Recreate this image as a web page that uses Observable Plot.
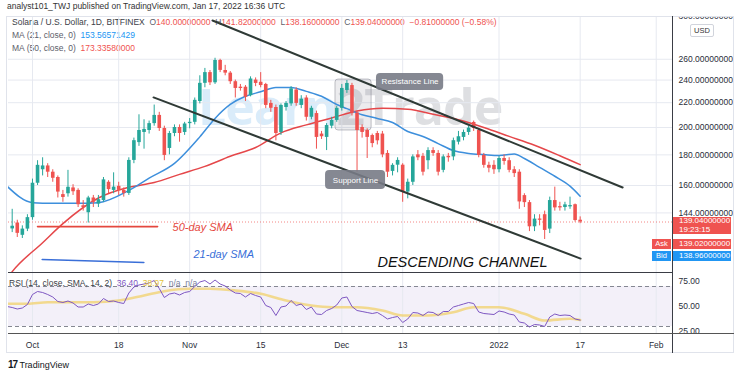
<!DOCTYPE html>
<html>
<head>
<meta charset="utf-8">
<script src="https://cdn.jsdelivr.net/npm/d3@7"></script>
<script src="https://cdn.jsdelivr.net/npm/@observablehq/plot@0.6"></script>
<style>
html,body{margin:0;padding:0;background:#fff;}
#wrap{position:relative;width:740px;height:376px;overflow:hidden;background:#fff;font-family:"Liberation Sans",Arial,sans-serif;color:#131722;}
.abs{position:absolute;white-space:nowrap;}
.g{color:#5d606b}.r{color:#ef5350}.b{color:#2196f3}
</style>
</head>
<body>
<div id="wrap"></div>
<script>
// ---------------- data ----------------
const firstCandle = "2021-09-27";
const lastCandle = "2022-01-17";
const opens = [135.4,138.5,132.1,135.3,141.4,161.4,170,172.5,168.4,165,
  154.5,155,158.5,157,148,144.1,152.5,149,151,162,
  157,159.5,157,155.2,176.2,188.7,196.2,197.7,203,209.5,
  199.2,184.5,195.4,200,196.2,203,204,221,237,247,
  237.5,258.8,249,246.5,238.5,233.5,233.5,226,240,238,
  236,219.4,216,196.2,216,219,231,217.7,224,208,
  211,195,192.5,201,205.5,215.3,230.6,235,211.4,200,
  197.7,193.9,195.4,195,181,168.9,173,173,156,162,
  180,179,176,183,181,169.6,179,178.6,189,192.5,
  196.2,203.9,197.7,179.6,172.9,172.9,170,177.5,176,170,
  168.4,153.9,149.8,136.5,140.6,143,135.3,151,147.5,147,
  147.5,148.6,140];
const highs = [146,140,137,143,164,176,178,174,170,166,
  157,169.6,160.5,158,151,153.5,154,154,165,163,
  168,162,158.5,178,192,210,206,205,218,212,
  201,197,202,202,204,207,224,244,251,249,
  261,260,254,248,240,236,235,243,242,247,
  237,222,218,219,221,234,233,226,226,217,
  213,197,203,208,217,236,239.6,237,213,202,
  199,195,197,197,183,174,178,174,164,180,
  183,181,185,185,183,180,181,192,197,198,
  201,205,199,181,175,176,179,180,178,172,
  170,155,151,143,143,145,153,159,150,150,
  153,149,141.82];
const lows = [133.5,131,130.5,134,140,160,166,165,162,152.5,
  150,153,154,147,145,138.5,147,147,150,155,
  155,154,153,154,174,186,184,195,201,197,
  176,180,193,189,194,199,202,219,233,235,
  236,247,244,236,224,230,221,225,234,233,
  215,212,190,194,213,217,217,215,205,206,
  184,191,183,199,204,213,228,209,168.4,192,
  177.5,185,187,178,165,166,168,150,152,160,
  176,166,170,179,166,168,175,176,187,190,
  194,197,178,171,168,167,168,173,168,165,
  146,147,134,134,137,130,133,145,145,145,
  146,139,138.16];
const closes = [136.8,133.1,135.3,141.4,161.4,172.9,172.5,168.4,164.5,156,
  152.8,158.9,156.2,148.6,147,152.5,150,151.5,163.5,157.5,
  159,157,155.2,176.2,190.1,197.7,198.5,203,209.5,199.2,
  179.6,195.4,200,195.4,202.7,204,222,237,247,237.5,
  258.8,249.1,246.5,238.5,232.4,232.4,224.6,241,236.9,235,
  217.7,215.3,195.4,217.7,219.4,232,219.4,223,208,215.3,
  192.5,193,201.5,205.5,215.3,232.4,236.9,211.4,197.7,196.2,
  192.5,188,190,180,168.4,172.9,176.2,156,162,178.6,
  178,168.4,183,181,168.4,178.6,178,190.1,193,196.2,
  199.5,199.2,179.6,172.9,171,170,177.5,175.5,169.6,167.5,
  150.2,149.8,136.5,140.6,140,134.6,151,146.8,146.8,148.5,
  148,139.85,139.04];

const ma21Dates = ["2021-09-26","2021-10-01","2021-10-05","2021-10-10","2021-10-14","2021-10-20","2021-10-24","2021-10-29","2021-11-03","2021-11-06","2021-11-09","2021-11-12","2021-11-15","2021-11-18","2021-11-21","2021-11-24","2021-11-27","2021-11-30","2021-12-02","2021-12-05","2021-12-08","2021-12-11","2021-12-14","2021-12-17","2021-12-20","2021-12-23","2021-12-26","2021-12-29","2022-01-01","2022-01-04","2022-01-06","2022-01-09","2022-01-12","2022-01-15","2022-01-17"];
const ma21Values = [159.5,149.8,149.4,149.4,149.8,157.0,164.6,174.2,192.9,207.1,218.5,225.5,229.4,233.3,233.3,229.8,225.5,218.5,215.0,210.0,207.1,203.9,196.9,193.2,188.0,183.0,181.0,180.2,179.6,180.6,177.5,171.5,165.8,159.6,153.57];

const ma50Dates = ["2021-09-26","2021-09-27","2021-10-03","2021-10-07","2021-10-14","2021-10-20","2021-10-25","2021-10-30","2021-11-04","2021-11-09","2021-11-14","2021-11-19","2021-11-24","2021-11-29","2021-12-04","2021-12-09","2021-12-14","2021-12-19","2021-12-24","2021-12-29","2022-01-03","2022-01-08","2022-01-13","2022-01-17"];
const ma50Values = [112.0,114.9,128.4,138.2,152.5,158.9,161.8,167.0,172.2,179.0,185.2,195.9,202.0,207.5,213.0,215.3,214.5,210.4,206.0,200.0,193.3,186.8,179.4,173.34];

const rsiStart = "2021-09-26";
const rsiValues = [50,49,47.5,48.5,52,
  62,65,64,62,59.5,55,54,55.5,53.5,49.5,
  49.5,52.5,51,52.5,58,55,55.5,54,53,63.5,
  69.5,71.5,72.5,73.5,76,68,59,62.5,63.5,61.5,64,
  65,70,74.5,76,72.5,76.5,72.5,70.5,66.5,63.5,
  63,59.5,63,61,59.5,51,49,41,49.5,50.5,
  56,51,52.5,47,49.5,42.5,42,46,48,51.5,
  58.5,59.5,50,46,45,44,43,44,41,37.5,
  39,40,34,37.5,44,43.5,41,44.5,44,41,
  45,45,49.5,51,52.5,54,53,44.5,43,42.5,42,
  45.5,44.5,42.5,41.5,34.5,33.5,29.5,32,31.5,30,
  39.5,42.5,41,41.5,41,37.5,36.4];
const rsiMaDates = ["2021-09-26","2021-09-30","2021-10-04","2021-10-09","2021-10-13","2021-10-18","2021-10-23","2021-10-27","2021-11-01","2021-11-05","2021-11-10","2021-11-15","2021-11-20","2021-11-25","2021-11-29","2021-12-04","2021-12-09","2021-12-13","2021-12-18","2021-12-23","2021-12-27","2022-01-01","2022-01-06","2022-01-10","2022-01-15","2022-01-17"];
const rsiMaValues = [52.7,52.7,54.3,54.3,54.3,56,61,65.3,67.7,67.7,66,62.7,56,51,49.3,49.3,46,41,41,44.3,49.3,49.3,42.7,36,37.7,36.5];

const tickDates = ["2021-10-01","2021-10-18","2021-11-01","2021-11-15","2021-12-01","2021-12-13","2022-01-01","2022-01-17","2022-02-01"];
const tickLabels = ["Oct","18","Nov","15","Dec","13","2022","17","Feb"];
const priceTicks = [144,160,180,200,220,240,260];
const topPriceTick = [300];
const rsiTicks = [25,50,75];
const rsiBands = [30,70];

const resistanceLine = [{date:"2021-11-05T12:00Z", price:301.8},{date:"2022-01-25T09:00Z", price:158.8}];
const supportLine = [{date:"2021-10-24T21:00Z", price:224.5},{date:"2022-01-17T02:00Z", price:120.8}];
const lineLabels = [
  {text:"Resistance Line", x1:"2021-12-07T20:00Z", x2:"2021-12-21T02:00Z", y1:230.6, y2:246.2, tx:"2021-12-14T11:00Z", ty:238.3},
  {text:"Support Line", x1:"2021-11-27T19:00Z", x2:"2021-12-09T15:00Z", y1:157.6, y2:169.5, tx:"2021-12-03T17:00Z", ty:163.4}
];
const highlightBox = [{x1:"2021-11-29T18:00Z", x2:"2021-12-06T21:00Z", y1:197.7, y2:240.5}];
const smaNotes = [
  {text:"50-day SMA", date:"2021-10-28T15:00Z", price:136.1, key:"ma50"},
  {text:"21-day SMA", date:"2021-11-01T18:00Z", price:122.7, key:"ma21"}
];
const smaNoteLines50 = [{date:"2021-10-02", price:136.6},{date:"2021-10-25T16:00Z", price:136.6}];
const smaNoteLines21 = [{date:"2021-10-02T22:00Z", price:120.4},{date:"2021-10-22T23:00Z", price:119.0}];
const channelTitle = [{text:"DESCENDING CHANNEL", date:"2021-12-24T19:00Z", price:119.0}];
const lastPrice = 139.04;

// ---------------- build ----------------
const UP = "#26a69a", DOWN = "#ef5350", MA21C = "#3d8fdc", MA50C = "#e5474a";
const FONT = "'Liberation Sans', Arial, sans-serif";
const D = s => new Date(s.length === 10 ? s + "T00:00:00Z" : s);
const candleDates = d3.utcDay.range(D(firstCandle), d3.utcDay.offset(D(lastCandle), 1));
const candles = candleDates.map((date, i) => {
  const o = opens[i], c = closes[i];
  let lo = Math.min(o, c), hi = Math.max(o, c);
  if (hi / lo < 1.005) { const m = Math.sqrt(hi * lo); lo = m / 1.0025; hi = m * 1.0025; }
  return {date, open:o, high:highs[i], low:lows[i], close:c, lo, hi, color: c >= o ? UP : DOWN};
});
const ma21 = ma21Dates.map((d, i) => ({date:D(d), price:ma21Values[i]}));
const ma50 = ma50Dates.map((d, i) => ({date:D(d), price:ma50Values[i]}));
const rsiDates = d3.utcDay.range(D(rsiStart), d3.utcDay.offset(D(lastCandle), 1));
const rsi = rsiDates.map((date, i) => ({date, v:rsiValues[i]}));
const rsiMa = rsiMaDates.map((d, i) => ({date:D(d), v:rsiMaValues[i]}));
const ticks = tickDates.map(D);
const tickLabelOf = d => tickLabels[ticks.findIndex(t => +t === +d)];
const toPts = arr => arr.map(p => ({date:D(p.date), price:p.price}));

const xDomain = [new Date(Date.UTC(2021,8,26,6,30)), new Date(Date.UTC(2022,1,4,5,0))];

const wrap = document.getElementById("wrap");
function addDiv(html, css) {
  const d = document.createElement("div");
  d.className = "abs"; d.style.cssText = css; d.innerHTML = html;
  wrap.appendChild(d); return d;
}

// watermark (behind)
addDiv('<span style="color:#4aa3e8;opacity:0.2">Learn</span><span style="color:#8a8f99;opacity:0.28">2Trade</span>',
  "left:198px;top:72px;font:bold 50px 'Open Sans',sans-serif;letter-spacing:-1px;");

// header + legend
addDiv("analyst101_TWJ published on TradingView.com, Jan 17, 2022 16:36 UTC",
  "left:7px;top:1px;font-size:8.5px;line-height:11px;color:#333;");
addDiv('<span style="color:#3b3e47">Solana / U.S. Dollar, 1D, BITFINEX</span>&nbsp; <span class="g">O</span><span class="r">140.00000000</span>&nbsp; <span class="g">H</span><span class="r">141.82000000</span>&nbsp; <span class="g">L</span><span class="r">138.16000000</span>&nbsp; <span class="g">C</span><span class="r">139.04000000</span>&nbsp; <span class="r">\u22120.81000000 (\u22120.58%)</span>',
  "left:12px;top:16.5px;font-size:8.5px;line-height:11px;");
addDiv('<span class="g">MA (21, close, 0)</span>&nbsp; <span class="b">153.56571429</span>',
  "left:12px;top:29.5px;font-size:8.5px;line-height:11px;");
addDiv('<span class="g">MA (50, close, 0)</span>&nbsp; <span class="r">173.33580000</span>',
  "left:12px;top:42.5px;font-size:8.5px;line-height:11px;");

// ---------- main price pane ----------
const plotA = Plot.plot({
  width: 740, height: 255,
  marginLeft: 8, marginRight: 68, marginTop: 0, marginBottom: 0,
  style: {fontFamily: FONT, fontSize: "8.5px", color: "#2a2e39", background: "transparent", overflow: "hidden"},
  x: {type: "utc", domain: xDomain, axis: null, label: null},
  y: {type: "log", domain: [114.5, 305.3], label: null, axis: null},
  marks: [
    Plot.gridX(ticks, {stroke: "#e6e9f0", strokeOpacity: 1}),
    Plot.gridY(priceTicks, {stroke: "#e6e9f0", strokeOpacity: 1}),
    Plot.rect(highlightBox, {x1: d => D(d.x1), x2: d => D(d.x2), y1: "y1", y2: "y2", fill: "#787b86", fillOpacity: 0.14, stroke: "#787b86", strokeOpacity: 0.45, rx: 3}),
    Plot.ruleY([lastPrice], {stroke: DOWN, strokeDasharray: "1,2", strokeOpacity: 0.7}),
    Plot.line(ma50, {x: "date", y: "price", stroke: MA50C, strokeWidth: 1.5, curve: "monotone-x", clip: true}),
    Plot.line(ma21, {x: "date", y: "price", stroke: MA21C, strokeWidth: 1.5, curve: "monotone-x", clip: true}),
    Plot.ruleX(candles, {x: "date", y1: "low", y2: "high", stroke: "color", strokeWidth: 1, clip: true}),
    Plot.ruleX(candles, {x: "date", y1: "lo", y2: "hi", stroke: "color", strokeWidth: 3.6, clip: true}),
    Plot.line(toPts(smaNoteLines50), {x: "date", y: "price", stroke: "#e5473e", strokeWidth: 1.6}),
    Plot.line(toPts(smaNoteLines21), {x: "date", y: "price", stroke: "#3a6fd8", strokeWidth: 1.6}),
    Plot.text(smaNotes, {x: d => D(d.date), y: "price", text: "text", textAnchor: "start", fontStyle: "italic", fontSize: 11, fill: d => d.key === "ma50" ? "#e5473e" : "#3a6fd8"}),
    Plot.text(channelTitle, {x: d => D(d.date), y: "price", text: "text", fontStyle: "italic", fontSize: 14.5, fill: "#111", fontFamily: FONT}),
    Plot.line(toPts(resistanceLine), {x: "date", y: "price", stroke: "#2f3a36", strokeWidth: 2, clip: true}),
    Plot.line(toPts(supportLine), {x: "date", y: "price", stroke: "#2f3a36", strokeWidth: 2, clip: true}),
    Plot.rect(lineLabels, {x1: d => D(d.x1), x2: d => D(d.x2), y1: "y1", y2: "y2", fill: "#787b86", fillOpacity: 0.9, rx: 4}),
    Plot.text(lineLabels, {x: d => D(d.tx), y: "ty", text: "text", fill: "#fff", fontSize: 8}),
    Plot.axisY(priceTicks, {anchor: "right", tickSize: 0, tickPadding: 6, tickFormat: d => d.toFixed(8), label: null}),
    Plot.axisY(topPriceTick, {anchor: "right", tickSize: 0, tickPadding: 6, dy: -6, tickFormat: d => d.toFixed(8), label: null})
  ]
});
plotA.style.position = "absolute";
plotA.style.left = "0px";
plotA.style.top = "17px";
wrap.appendChild(plotA);

// RSI legend
addDiv('<span style="color:#3b3e47">RSI (14, close, SMA, 14, 2)</span>&nbsp; <span style="color:#7e57c2">36.40</span>&nbsp; <span style="color:#e3c23a">38.97</span>&nbsp; <span style="color:#7b7f9e">n/a&nbsp; n/a</span>',
  "left:9px;top:278px;font-size:8.5px;line-height:11px;z-index:2;");

// ---------- RSI pane + time axis ----------
const plotB = Plot.plot({
  width: 740, height: 80,
  marginLeft: 8, marginRight: 68, marginTop: 0, marginBottom: 19,
  style: {fontFamily: FONT, fontSize: "8.5px", color: "#2a2e39", background: "transparent", overflow: "hidden"},
  x: {type: "utc", domain: xDomain, label: null, axis: null},
  y: {domain: [23, 84], label: null, axis: null},
  marks: [
    Plot.rect([rsiBands], {x1: () => xDomain[0], x2: () => xDomain[1], y1: d => d[0], y2: d => d[1], fill: "#7e57c2", fillOpacity: 0.09}),
    Plot.gridX(ticks, {stroke: "#e6e9f0", strokeOpacity: 1}),
    Plot.ruleY(rsiBands, {stroke: "#787b86", strokeDasharray: "4,3", strokeOpacity: 0.9}),
    Plot.line(rsiMa, {x: "date", y: "v", stroke: "#f2d16b", strokeWidth: 2.6, strokeOpacity: 0.75, curve: "monotone-x", clip: true}),
    Plot.line(rsi, {x: "date", y: "v", stroke: "#7e57c2", strokeWidth: 1, clip: true}),
    Plot.axisX(ticks, {tickSize: 0, tickPadding: 8, tickFormat: tickLabelOf, label: null}),
    Plot.axisY(rsiTicks, {anchor: "right", tickSize: 0, tickPadding: 6, tickFormat: d => d.toFixed(2), label: null})
  ]
});
plotB.style.position = "absolute";
plotB.style.left = "0px";
plotB.style.top = "272px";
wrap.appendChild(plotB);

// frame / separators
addDiv("", "left:6px;top:16px;width:728px;height:337px;border:1px solid #e0e3eb;box-sizing:border-box;");
addDiv("", "left:672px;top:16px;width:1px;height:337px;background:#3a3d45;");
addDiv("", "left:8px;top:272px;width:664px;height:1px;background:#3a3d45;");
addDiv("", "left:8px;top:333px;width:726px;height:1px;background:#555;");

// USD box
addDiv("USD", "left:690px;top:24px;width:22px;height:11px;border:1px solid #d1d4dc;background:#fff;border-radius:2px;font-size:7.5px;line-height:11px;text-align:center;color:#333;");

// price tags positioned with the plot's y scale
const yPx = 17 + plotA.scale("y").apply(lastPrice);
addDiv('139.04000000<br>19:23:15', `left:673px;top:${yPx - 4.5}px;width:58px;height:17px;background:#ef5350;color:#fff;font-size:8px;line-height:8.5px;padding-left:6px;box-sizing:border-box;`);
addDiv('Ask', `left:652px;top:${yPx + 17}px;width:19px;height:10.5px;background:#ef5350;color:#fff;font-size:7.5px;line-height:10.5px;text-align:center;`);
addDiv('139.02000000', `left:673px;top:${yPx + 17}px;width:58px;height:10.5px;background:#ef5350;color:#fff;font-size:8px;line-height:10.5px;padding-left:6px;box-sizing:border-box;`);
addDiv('Bid', `left:652px;top:${yPx + 29.5}px;width:19px;height:10px;background:#2196f3;color:#fff;font-size:7.5px;line-height:10px;text-align:center;`);
addDiv('138.96000000', `left:673px;top:${yPx + 29.5}px;width:58px;height:10px;background:#2196f3;color:#fff;font-size:8px;line-height:10px;padding-left:6px;box-sizing:border-box;`);

// footer
addDiv('<b style="font-size:10px;letter-spacing:-1px;color:#131722">17</b> TradingView', "left:8px;top:359px;font-size:9px;line-height:12px;color:#131722;");
</script>
</body>
</html>
